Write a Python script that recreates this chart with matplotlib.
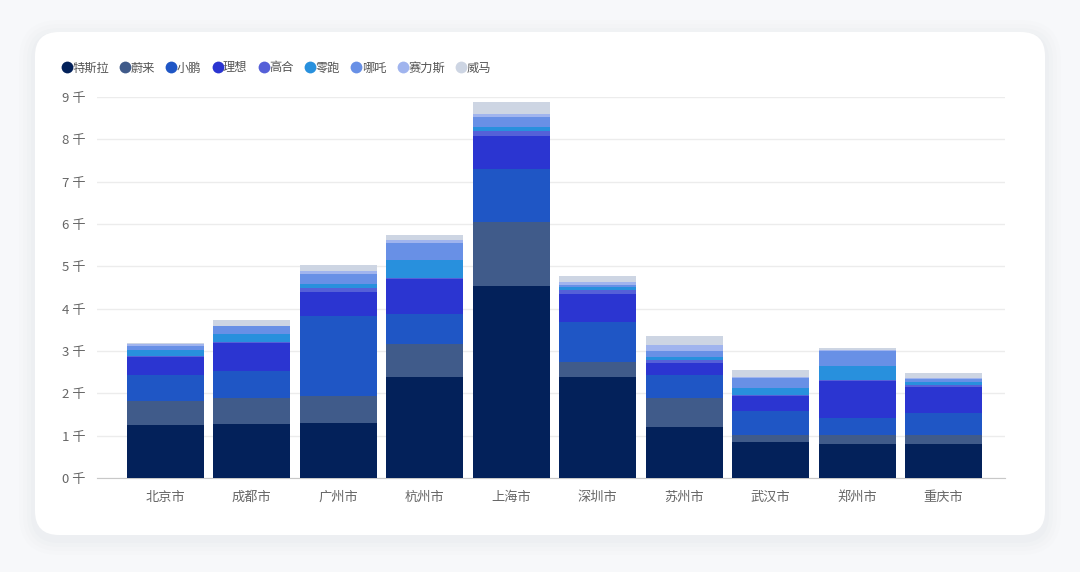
import numpy as np
import matplotlib.pyplot as plt
from matplotlib.patches import FancyBboxPatch
from matplotlib.lines import Line2D
from matplotlib.ticker import FuncFormatter

plt.rcParams['font.family'] = ['Noto Sans CJK SC', 'DejaVu Sans']

cities = ['北京市', '成都市', '广州市', '杭州市', '上海市', '深圳市', '苏州市', '武汉市', '郑州市', '重庆市']
brands = ['特斯拉', '蔚来', '小鹏', '理想', '高合', '零跑', '哪吒', '赛力斯', '威马']

tesla = [1250, 1280, 1290, 2390, 4540, 2390, 1210, 860, 810, 800]
nio = [575, 610, 650, 770, 1510, 350, 690, 160, 210, 210]
xpeng = [610, 630, 1890, 710, 1240, 940, 530, 570, 390, 530]
lixiang = [430, 670, 570, 830, 800, 670, 280, 350, 870, 600]
hiphi = [20, 20, 100, 20, 100, 80, 80, 20, 40, 50]
leap = [140, 190, 90, 430, 90, 80, 60, 160, 330, 80]
neta = [90, 180, 220, 410, 250, 60, 160, 240, 360, 60]
seres = [50, 20, 90, 60, 80, 70, 130, 20, 20, 40]
weltmeister = [30, 140, 140, 120, 280, 140, 210, 180, 50, 110]

series = [tesla, nio, xpeng, lixiang, hiphi, leap, neta, seres, weltmeister]
colors = ['#03215a', '#405b8a', '#1f56c5', '#2b35d1', '#5560d8',
          '#2890dd', '#6890e6', '#a0b4ee', '#cdd5e3']

fig = plt.figure(figsize=(10.8, 5.72), dpi=100)
fig.patch.set_facecolor('#f7f8fa')

# card with soft shadow
W, H = 1080, 572
for i, a in enumerate([0.015, 0.02, 0.025, 0.03]):
    pad = (4 - i) * 4
    sh = FancyBboxPatch(((35 - pad) / W, (37 - pad - 4) / H), (1010 + 2 * pad) / W, (503 + 2 * pad) / H,
                        boxstyle=f"round,pad=0,rounding_size={(24 + pad) / W}",
                        transform=fig.transFigure, facecolor='#9aa3b5', edgecolor='none', alpha=a,
                        mutation_aspect=W / H, zorder=-2)
    fig.patches.append(sh)
card = FancyBboxPatch((35 / W, 37 / H), 1010 / W, 503 / H,
                      boxstyle=f"round,pad=0,rounding_size={24 / W}",
                      transform=fig.transFigure, facecolor='white', edgecolor='none',
                      mutation_aspect=W / H, zorder=-1)
fig.patches.append(card)

ax = fig.add_axes([97 / W, 1 - 478 / H, 908 / W, 381 / H])
ax.set_facecolor('none')

x = np.arange(len(cities))
bottom = np.zeros(len(cities))
for name, vals, c in zip(brands, series, colors):
    ax.bar(x, vals, width=0.89, bottom=bottom, color=c, label=name, zorder=3)
    bottom += np.array(vals)

ax.set_xlim(-0.79, len(cities) - 1 + 0.71)
ax.set_ylim(0, 9000)
ax.set_yticks(np.arange(0, 9001, 1000))
ax.yaxis.set_major_formatter(FuncFormatter(lambda v, p: f'{int(v / 1000)} 千'))
ax.set_xticks(x)
ax.set_xticklabels(cities)
ax.grid(axis='y', color='#ececec', linewidth=1, zorder=0)
for s in ['top', 'right', 'left']:
    ax.spines[s].set_visible(False)
ax.spines['bottom'].set_color('#c8c8c8')
ax.tick_params(axis='both', length=0, labelsize=9.5, colors='#666666')
ax.tick_params(axis='x', pad=9)
ax.tick_params(axis='y', pad=8)

handles = [Line2D([0], [0], marker='o', linestyle='none', markersize=8.5,
                  markerfacecolor=c, markeredgecolor='none') for c in colors]
leg = fig.legend(handles, brands, loc='center left', bbox_to_anchor=(58 / W, 1 - 68 / H),
                 ncol=9, frameon=False, fontsize=8.8, handlelength=0.6, handletextpad=0.15,
                 columnspacing=1.03, borderaxespad=0)
for t in leg.get_texts():
    t.set_color('#555555')

fig.savefig('out.png', dpi=100, facecolor=fig.get_facecolor())
